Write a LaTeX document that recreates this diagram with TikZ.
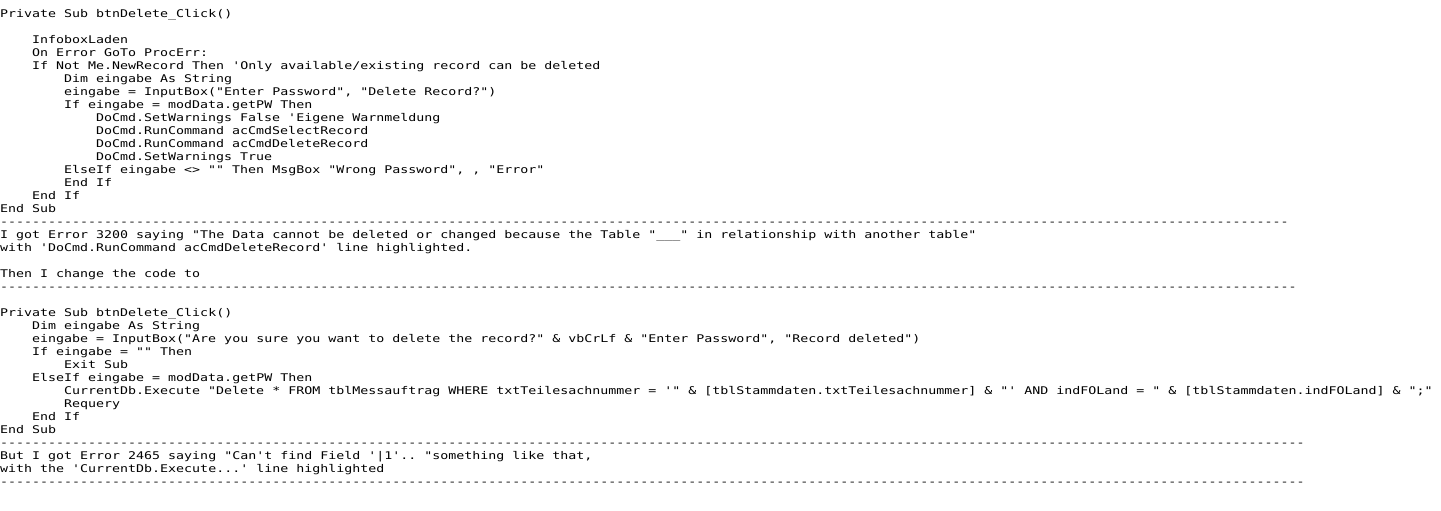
\documentclass[tikz,border=0pt]{standalone}
\usepackage{fontspec}
\newfontfamily\codefont{DejaVu Sans Mono}[FakeStretch=1.254]
\newcommand\dashrow[1]{\foreach\d in {1,...,#1}{-}}
\begin{document}
\begin{tikzpicture}[x=1pt,y=1pt,
  codeline/.style={anchor=base west, inner sep=0pt,
    font=\codefont\fontsize{10.6pt}{13pt}\selectfont\frenchspacing}]
\useasboundingbox (0,0) rectangle (1441,-511);
\begin{scope}[x=8pt,y=-13pt,shift={(0,-17.3pt)}]% (indent, row)
    % first version
    \node[codeline] (a0) at (0,0) {Private Sub btnDelete\_Click()};
    \node[codeline] (a2) at (4,2) {InfoboxLaden};
    \node[codeline] (a3) at (4,3) {On Error GoTo ProcErr:};
    \node[codeline] (a4) at (4,4) {If Not Me.NewRecord Then 'Only available/existing record can be deleted};
    \node[codeline] (a5) at (8,5) {Dim eingabe As String};
    \node[codeline] (a6) at (8,6) {eingabe = InputBox("Enter Password", "Delete Record?")};
    \node[codeline] (a7) at (8,7) {If eingabe = modData.getPW Then};
    \node[codeline] (a8) at (12,8) {DoCmd.SetWarnings False 'Eigene Warnmeldung};
    \node[codeline] (a9) at (12,9) {DoCmd.RunCommand acCmdSelectRecord};
    \node[codeline] (a10) at (12,10) {DoCmd.RunCommand acCmdDeleteRecord};
    \node[codeline] (a11) at (12,11) {DoCmd.SetWarnings True};
    \node[codeline] (a12) at (8,12) {ElseIf eingabe <> "" Then MsgBox "Wrong Password", , "Error"};
    \node[codeline] (a13) at (8,13) {End If};
    \node[codeline] (a14) at (4,14) {End If};
    \node[codeline] (a15) at (0,15) {End Sub};
    \node[codeline] (sep1) at (0,16) {\dashrow{161}};
    % first error
    \node[codeline] (e1) at (0,17) {I got Error 3200 saying "The Data cannot be deleted or changed because the Table "\_\_\_" in relationship with another table"};
    \node[codeline] (e2) at (0,18) {with 'DoCmd.RunCommand acCmdDeleteRecord' line highlighted.};
    \node[codeline] (e3) at (0,20) {Then I change the code to};
    \node[codeline] (sep2) at (0,21) {\dashrow{162}};
    % second version
    \node[codeline] (b0) at (0,23) {Private Sub btnDelete\_Click()};
    \node[codeline] (b1) at (4,24) {Dim eingabe As String};
    \node[codeline] (b2) at (4,25) {eingabe = InputBox("Are you sure you want to delete the record?" \& vbCrLf \& "Enter Password", "Record deleted")};
    \node[codeline] (b3) at (4,26) {If eingabe = "" Then};
    \node[codeline] (b4) at (8,27) {Exit Sub};
    \node[codeline] (b5) at (4,28) {ElseIf eingabe = modData.getPW Then};
    \node[codeline] (b6) at (8,29) {CurrentDb.Execute "Delete * FROM tblMessauftrag WHERE txtTeilesachnummer = '" \& [tblStammdaten.txtTeilesachnummer] \& "' AND indFOLand = " \& [tblStammdaten.indFOLand] \& ";"};
    \node[codeline] (b7) at (8,30) {Requery};
    \node[codeline] (b8) at (4,31) {End If};
    \node[codeline] (b9) at (0,32) {End Sub};
    \node[codeline] (sep3) at (0,33) {\dashrow{163}};
    % second error
    \node[codeline] (f1) at (0,34) {But I got Error 2465 saying "Can't find Field '|1'.. "something like that,};
    \node[codeline] (f2) at (0,35) {with the 'CurrentDb.Execute...' line highlighted};
    \node[codeline] (sep4) at (0,36) {\dashrow{163}};
\end{scope}
\end{tikzpicture}
\end{document}
